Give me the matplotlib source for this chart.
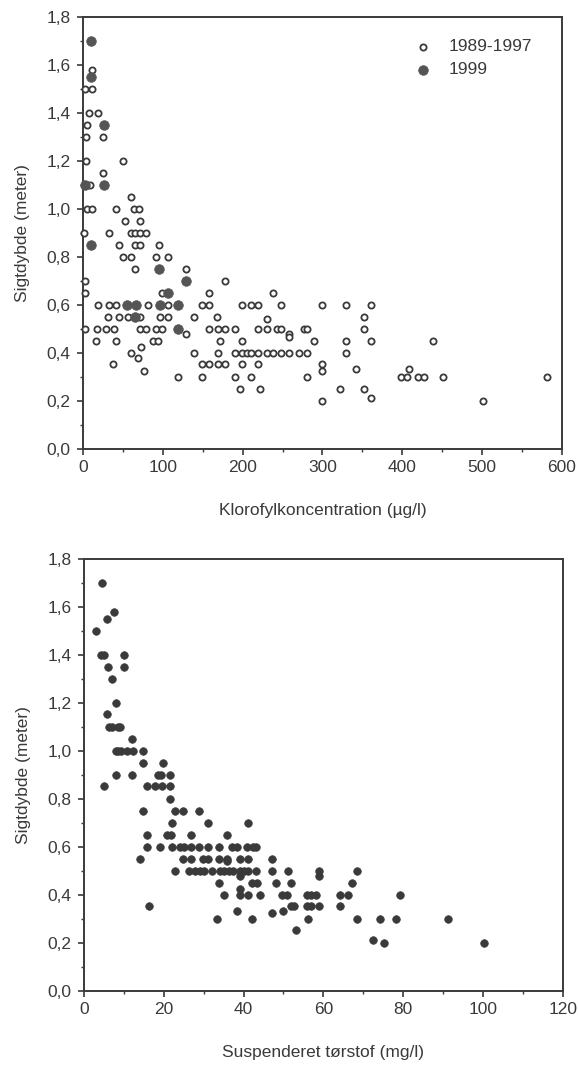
import matplotlib
matplotlib.use("Agg")
import matplotlib.pyplot as plt
from matplotlib.ticker import MultipleLocator, FuncFormatter

plt.rcParams['font.family'] = ['Liberation Sans', 'DejaVu Sans']

# ---- Top chart: chlorophyll vs Secchi depth ----
chl_old = [11.6, 2.8, 11.6, 7, 19, 4.6, 3.7, 25, 3.3, 50.6, 25, 4.6, 8.4, 60,
           4.6, 11.6, 41, 64, 70, 52.5, 71.5,
           1.5, 32.5, 60, 65, 71.5, 78.5,
           44.6, 64.6, 71, 94.7,
           49.7, 60.4, 91.5, 106.8,
           64.6, 128.7, 1.9, 178,
           1.9, 98.5, 158, 238,
           19, 32.5, 41, 81.7, 107, 148.6, 158, 199.7, 210, 219.7, 248.5, 300, 329.7, 361.3,
           31.6, 44.6, 56.7, 71.5, 96.6, 106.8, 139, 168, 351.6, 230,
           1.9, 17.6, 29.3, 39, 72, 78.5, 91.5, 98.5, 158.4, 168.6, 178.3, 190.4, 219.7,
           230, 242.4, 248.5, 276.8, 280, 351.6, 128.7, 258, 258,
           15.8, 41, 87.3, 93.8, 172, 199.7, 289.8, 329.7, 361.3, 439,
           60.4, 139, 168.6, 190.4, 199.7, 205.3, 210, 219.7, 230, 238.3, 248.5, 258.2,
           270.3, 280, 329.7, 73, 68.7,
           37, 148.6, 158.4, 168.6, 178.3, 199.7, 219.7, 300, 300, 76, 342, 408.7,
           119, 148.6, 190.4, 210, 280, 398.5, 405.5, 419.4, 427.3, 450.5, 580.6,
           196.5, 222, 321.9, 351.6,
           300, 361.3, 500.7]
secchi_old = [1.58, 1.5, 1.5, 1.4, 1.4, 1.35, 1.3, 1.3, 1.2, 1.2, 1.15, 1.1, 1.1, 1.05,
              1.0, 1.0, 1.0, 1.0, 1.0, 0.95, 0.95,
              0.9, 0.9, 0.9, 0.9, 0.9, 0.9,
              0.85, 0.85, 0.85, 0.85,
              0.8, 0.8, 0.8, 0.8,
              0.75, 0.75, 0.7, 0.7,
              0.65, 0.65, 0.65, 0.65,
              0.6, 0.6, 0.6, 0.6, 0.6, 0.6, 0.6, 0.6, 0.6, 0.6, 0.6, 0.6, 0.6, 0.6,
              0.55, 0.55, 0.55, 0.55, 0.55, 0.55, 0.55, 0.55, 0.55, 0.54,
              0.5, 0.5, 0.5, 0.5, 0.5, 0.5, 0.5, 0.5, 0.5, 0.5, 0.5, 0.5, 0.5,
              0.5, 0.5, 0.5, 0.5, 0.5, 0.5, 0.48, 0.48, 0.467,
              0.45, 0.45, 0.45, 0.45, 0.45, 0.45, 0.45, 0.45, 0.45, 0.45,
              0.4, 0.4, 0.4, 0.4, 0.4, 0.4, 0.4, 0.4, 0.4, 0.4, 0.4, 0.4,
              0.4, 0.4, 0.4, 0.425, 0.38,
              0.355, 0.355, 0.355, 0.355, 0.355, 0.355, 0.355, 0.355, 0.324, 0.324, 0.335, 0.335,
              0.3, 0.3, 0.3, 0.3, 0.3, 0.3, 0.3, 0.3, 0.3, 0.3, 0.3,
              0.25, 0.25, 0.25, 0.25,
              0.2, 0.212, 0.2]
chl_1999 = [10.2, 9.8, 26.5, 2.0, 26.5, 10.2, 94.7, 128.7, 106.8, 54.8, 66, 96.6, 119, 65, 119]
secchi_1999 = [1.70, 1.55, 1.35, 1.10, 1.10, 0.85, 0.75, 0.70, 0.65, 0.60, 0.60, 0.60, 0.60, 0.55, 0.50]

# ---- Bottom chart: suspended solids vs Secchi depth ----
tss = [4.4, 7.6, 5.7, 3.0, 4.3, 5.1, 10.0, 6.0, 10.0, 6.9, 8.1, 5.7,
       6.2, 6.9, 8.5, 9.1, 12.0,
       8.0, 8.6, 9.4, 10.9, 12.2, 14.8, 14.8, 19.7,
       8.1, 12.0, 18.6, 19.4, 21.6,
       5.1, 15.9, 17.8, 19.6, 21.6, 21.6,
       14.8, 22.8, 24.7, 28.9, 22.0, 31.1, 41.0,
       15.9, 20.9, 21.8, 26.8, 35.9,
       15.9, 19.0, 22.0, 24.1, 25.0, 26.8, 28.9, 31.1, 33.9, 37.0, 38.4, 40.9, 42.4, 43.1,
       14.0, 24.7, 26.8, 29.8, 31.1, 33.9, 35.8, 39.0, 41.0, 47.2, 35.8,
       22.8, 26.4, 27.8, 29.1, 30.2, 32.0, 34.2, 35.2, 36.3, 37.3, 39.0, 40.2, 41.1, 43.1,
       47.2, 51.1, 59.0, 68.4, 39.0, 59.0,
       33.9, 42.1, 43.3, 48.1, 51.8, 67.3, 39.0,
       35.2, 39.0, 41.1, 44.2, 49.7, 50.9, 55.8, 56.9, 58.1, 64.1, 66.1, 79.3,
       16.2, 38.4, 47.2, 50.0, 51.8, 52.7, 55.8, 56.9, 59.0, 64.1,
       33.3, 42.2, 56.2, 68.5, 74.3, 78.2, 91.2,
       53.1, 72.4, 75.2, 100.3]
secchi_tss = [1.70, 1.58, 1.55, 1.50, 1.40, 1.40, 1.40, 1.35, 1.35, 1.30, 1.20, 1.155,
              1.10, 1.10, 1.10, 1.10, 1.05,
              1.0, 1.0, 1.0, 1.0, 1.0, 1.0, 0.95, 0.95,
              0.9, 0.9, 0.9, 0.9, 0.9,
              0.855, 0.855, 0.855, 0.855, 0.855, 0.8,
              0.75, 0.75, 0.75, 0.75, 0.7, 0.7, 0.7,
              0.65, 0.65, 0.65, 0.65, 0.65,
              0.6, 0.6, 0.6, 0.6, 0.6, 0.6, 0.6, 0.6, 0.6, 0.6, 0.6, 0.6, 0.6, 0.6,
              0.55, 0.55, 0.55, 0.55, 0.55, 0.55, 0.55, 0.55, 0.55, 0.55, 0.54,
              0.5, 0.5, 0.5, 0.5, 0.5, 0.5, 0.5, 0.5, 0.5, 0.5, 0.5, 0.5, 0.5, 0.5,
              0.5, 0.5, 0.5, 0.5, 0.48, 0.48,
              0.45, 0.45, 0.45, 0.45, 0.45, 0.45, 0.425,
              0.4, 0.4, 0.4, 0.4, 0.4, 0.4, 0.4, 0.4, 0.4, 0.4, 0.4, 0.4,
              0.355, 0.335, 0.324, 0.335, 0.355, 0.355, 0.355, 0.355, 0.355, 0.355,
              0.3, 0.3, 0.3, 0.3, 0.3, 0.3, 0.3,
              0.253, 0.213, 0.202, 0.20]

legend_labels = ['1989-1997', '1999']
y_label = 'Sigtdybde (meter)'
x_label_top = 'Klorofylkoncentration (µg/l)'
x_label_bottom = 'Suspenderet tørstof (mg/l)'

INK = '#3a3a3a'
TXT = '#3a3a3a'
FS = 12.5


def comma(v, pos):
    return f'{v:.1f}'.replace('.', ',')


def style(ax, xmax, xmajor, xminor):
    ax.set_xlim(0, xmax)
    ax.set_ylim(0, 1.8)
    ax.xaxis.set_major_locator(MultipleLocator(xmajor))
    ax.xaxis.set_minor_locator(MultipleLocator(xminor))
    ax.yaxis.set_major_locator(MultipleLocator(0.2))
    ax.yaxis.set_minor_locator(MultipleLocator(0.1))
    ax.yaxis.set_major_formatter(FuncFormatter(comma))
    for s in ax.spines.values():
        s.set_color(INK)
        s.set_linewidth(1.4)
    ax.tick_params(which='major', direction='out', length=4, width=1.2,
                   colors=INK, labelcolor=TXT, labelsize=FS)
    ax.tick_params(which='minor', direction='out', length=2.5, width=1.0, colors=INK)
    ax.tick_params(axis='y', which='major', pad=5)
    ax.tick_params(axis='x', which='major', pad=4)


fig = plt.figure(figsize=(5.78, 10.73), dpi=100)

ax1 = fig.add_axes([0.1436, 0.5815, 0.8287, 0.4026])
h_old = ax1.scatter(chl_old, secchi_old, s=20, facecolors='white', edgecolors=INK,
                    linewidths=1.3, zorder=3, clip_on=False)
h_new = ax1.scatter(chl_1999, secchi_1999, s=48, facecolors='#555555', edgecolors='#555555',
                    linewidths=0.5, zorder=4, clip_on=False)
style(ax1, 600, 100, 50)
ax1.legend([h_old, h_new], legend_labels, loc='upper left', bbox_to_anchor=(0.64, 0.985),
           frameon=False, fontsize=12.5, handletextpad=0.5, labelspacing=0.45,
           scatterpoints=1, labelcolor=TXT)

ax2 = fig.add_axes([0.1453, 0.0764, 0.8282, 0.4026])
ax2.scatter(tss, secchi_tss, s=30, facecolors=INK, edgecolors=INK, linewidths=0.5,
            zorder=3, clip_on=False)
style(ax2, 120, 20, 10)

for ax in (ax1, ax2):
    ax.set_ylabel(y_label, fontsize=FS, color=TXT)
    ax.yaxis.set_label_coords(-0.11, 0.5)

fig.text(0.558, 1 - 511 / 1073, x_label_top, ha='center', va='center', fontsize=FS, color=TXT)
fig.text(0.558, 1 - 1052 / 1073, x_label_bottom, ha='center', va='center', fontsize=FS, color=TXT)

fig.savefig('out.png', dpi=100, facecolor='white')
